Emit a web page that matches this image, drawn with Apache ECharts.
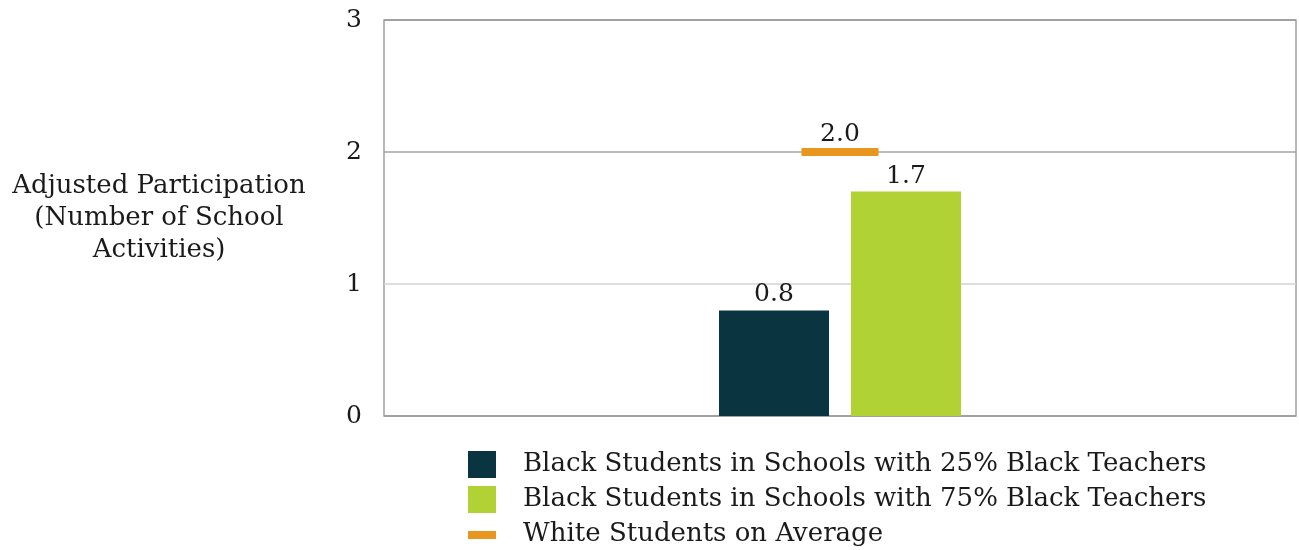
<!DOCTYPE html>
<html>
<head>
<meta charset="utf-8">
<script src="https://cdn.jsdelivr.net/npm/echarts@6/dist/echarts.min.js"></script>
<style>
  html, body { margin: 0; padding: 0; background: #fff; }
  #chart { width: 1299px; height: 550px; }
</style>
</head>
<body>
<div id="chart"></div>
<script>
// Adjusted participation in school activities
const categories = ['Participation'];
const seriesNames = [
  'Black Students in Schools with 25% Black Teachers',
  'Black Students in Schools with 75% Black Teachers',
  'White Students on Average'
];
const black25 = [0.8];
const black75 = [1.7];
const whiteAvg = [2.0];
const yTicks = [0, 1, 2, 3];

const FONT = 'DejaVu Serif';
const COLORS = ['#0a3440', '#b1d234', '#e8961e'];
const TEXT = '#1a1a1a';

const chart = echarts.init(document.getElementById('chart'), null, { renderer: 'canvas' });

const labelStyle = {
  show: true,
  position: 'top',
  distance: 3,
  fontFamily: FONT,
  fontSize: 25,
  color: TEXT,
  formatter: p => p.value.toFixed(1)
};

chart.setOption({
  animation: false,
  backgroundColor: '#fff',
  textStyle: { fontFamily: FONT },
  grid: {
    left: 384, right: 3, top: 20, bottom: 134,
    show: true, borderColor: '#a0a0a0', borderWidth: 1.5
  },
  legend: {
    orient: 'vertical',
    left: 468,
    top: 451,
    height: 150,
    padding: 0,
    itemWidth: 50,
    itemHeight: 27,
    itemGap: 8,
    selectedMode: false,
    textStyle: { fontFamily: FONT, fontSize: 26, color: TEXT },
    data: [
      { name: seriesNames[0], icon: 'path://M0,0 L28,0 L28,27 L0,27 Z M50,27' },
      { name: seriesNames[1], icon: 'path://M0,0 L28,0 L28,27 L0,27 Z M50,27' },
      { name: seriesNames[2], icon: 'path://M0,0 M0,10 L28,10 L28,18 L0,18 Z M50,27' }
    ]
  },
  xAxis: {
    type: 'category',
    data: categories,
    axisLine: { show: false },
    axisTick: { show: false },
    axisLabel: { show: false }
  },
  yAxis: {
    type: 'value',
    min: yTicks[0],
    max: yTicks[yTicks.length - 1],
    interval: 1,
    name: 'Adjusted Participation\n(Number of School\nActivities)',
    nameLocation: 'middle',
    nameRotate: 0,
    nameGap: 225,
    nameTextStyle: {
      fontFamily: FONT, fontSize: 26, color: TEXT,
      align: 'center', lineHeight: 32
    },
    axisLine: { show: false },
    axisTick: { show: false },
    axisLabel: {
      margin: 22,
      fontFamily: FONT, fontSize: 25, color: TEXT,
      padding: [6, 0, 0, 0],
      formatter: v => String(v)
    },
    splitLine: {
      show: true,
      lineStyle: { color: ['#9a9a9a', '#d2d2d2', '#a4a4a4', '#9a9a9a'], width: 1.5 }
    }
  },
  series: [
    {
      name: seriesNames[0],
      type: 'bar',
      data: black25,
      barWidth: 110,
      barGap: '20%',
      itemStyle: { color: COLORS[0] },
      label: labelStyle
    },
    {
      name: seriesNames[1],
      type: 'bar',
      data: black75,
      barWidth: 110,
      barGap: '20%',
      itemStyle: { color: COLORS[1] },
      label: labelStyle
    },
    {
      name: seriesNames[2],
      type: 'scatter',
      data: whiteAvg,
      symbol: 'rect',
      symbolSize: [77, 8],
      itemStyle: { color: COLORS[2], opacity: 1 },
      label: Object.assign({}, labelStyle, { distance: 1 }),
      emphasis: { disabled: true },
      z: 5
    }
  ]
});
</script>
</body>
</html>
